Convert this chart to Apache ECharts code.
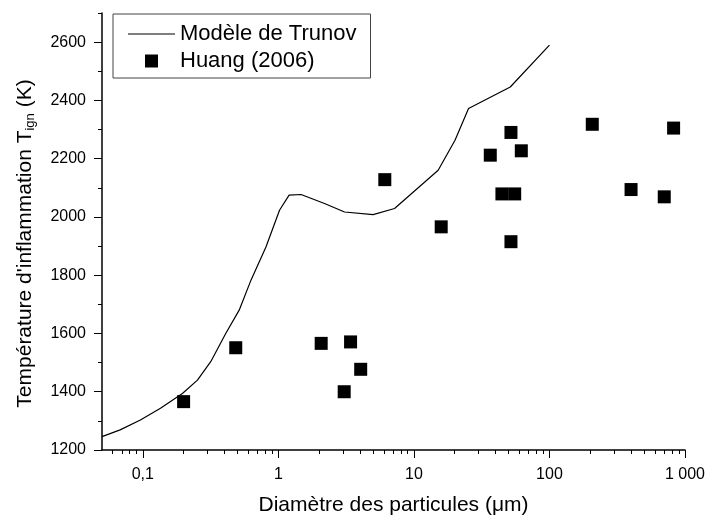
<!DOCTYPE html>
<html>
<head>
<meta charset="utf-8">
<script src="https://cdn.jsdelivr.net/npm/echarts@6/dist/echarts.min.js"></script>
<style>html,body{margin:0;padding:0;background:#fff}#c{width:708px;height:515px}</style>
</head>
<body>
<div id="c"></div>
<script>
// Model line (Trunov): diameter (µm), temperature (K)
const modelD = [0.05, 0.068, 0.096, 0.135, 0.196, 0.253, 0.317, 0.409, 0.514, 0.628, 0.81, 1.02, 1.2, 1.47, 2.19, 3.08, 5.0, 7.2, 15.1, 20.1, 25.3, 51.4, 100];
const modelT = [1246, 1269, 1303, 1343, 1394, 1440, 1503, 1600, 1680, 1783, 1897, 2023, 2075, 2077, 2046, 2017, 2008, 2029, 2160, 2263, 2372, 2446, 2590];
// Huang (2006) measurements
const huangD = [0.2, 0.485, 2.07, 3.06, 3.41, 4.05, 6.1, 15.9, 36.6, 44.6, 52, 52, 55.4, 62, 207, 400, 703, 824];
const huangT = [1366, 1551, 1566, 1400, 1571, 1477, 2128, 1966, 2212, 2079, 2290, 1915, 2079, 2227, 2318, 2094, 2069, 2305];
// Tick values / labels
const xMajorTicks = [0.1, 1, 10, 100, 1000];
const xTickLabels = ['0,1', '1', '10', '100', '1 000'];
const xMinorTicks = [0.06,0.07,0.08,0.09,0.2,0.3,0.4,0.5,0.6,0.7,0.8,0.9,2,3,4,5,6,7,8,9,20,30,40,50,60,70,80,90,200,300,400,500,600,700,800,900];
const yMajorTicks = [1200, 1400, 1600, 1800, 2000, 2200, 2400, 2600];
const yMinorTicks = [1300, 1500, 1700, 1900, 2100, 2300, 2500, 2700];

const FONT = 'Liberation Sans, Arial, sans-serif';
const chart = echarts.init(document.getElementById('c'));
const axisLine = {show: true, lineStyle: {color: '#000', width: 1.5}};

chart.setOption({
  animation: false,
  backgroundColor: '#fff',
  textStyle: {fontFamily: FONT, color: '#000'},
  grid: {left: 102, top: 13, width: 583, height: 437, containLabel: false, outerBoundsMode: 'none'},
  legend: {
    orient: 'vertical', left: 113, top: 14,
    padding: [9, 14, 6, 15],
    itemWidth: 47, itemHeight: 13, itemGap: 5,
    borderColor: '#444', borderWidth: 1,
    textStyle: {fontFamily: FONT, fontSize: 22, color: '#000'},
    data: [
      {name: 'Modèle de Trunov', icon: 'path://M0 0H47V1.2H0Z'},
      {name: 'Huang (2006)', icon: 'path://M0 0H13V13H0Z'}
    ]
  },
  xAxis: [{
    type: 'log', logBase: 10, min: 0.05, max: 1000,
    axisLine: axisLine,
    splitLine: {show: false},
    axisTick: {show: true, inside: false, length: 8, lineStyle: {color: '#000', width: 1}, customValues: xMajorTicks},
    axisLabel: {
      customValues: xMajorTicks, margin: 17, fontSize: 16, fontFamily: FONT, color: '#000',
      formatter: function (v) { const i = xMajorTicks.findIndex(t => Math.abs(Math.log10(t) - Math.log10(v)) < 1e-6); return i >= 0 ? xTickLabels[i] : ''; }
    },
    name: 'Diamètre des particules (μm)', nameLocation: 'middle', nameGap: 45,
    nameTextStyle: {fontSize: 21, fontFamily: FONT, color: '#000'}
  }, {
    type: 'log', logBase: 10, min: 0.05, max: 1000, position: 'bottom',
    axisLine: {show: false}, splitLine: {show: false},
    axisTick: {show: true, inside: false, length: 4, lineStyle: {color: '#000', width: 1}, customValues: xMinorTicks},
    axisLabel: {show: false}
  }],
  yAxis: [{
    type: 'value', min: 1200, max: 2700,
    axisLine: axisLine, splitLine: {show: false},
    axisTick: {show: true, inside: false, length: 8, lineStyle: {color: '#000', width: 1}, customValues: yMajorTicks},
    axisLabel: {customValues: yMajorTicks, margin: 16, fontSize: 16, fontFamily: FONT, color: '#000',
      formatter: function (v) { return String(v); }},
    name: "Température d'inflammation T{sub|ign} (K)", nameLocation: 'middle', nameGap: 65, nameRotate: 90,
    nameTextStyle: {
      fontSize: 21, fontFamily: FONT, color: '#000', padding: [0, 24, 0, 0],
      rich: {sub: {fontSize: 13, fontFamily: FONT, color: '#000', verticalAlign: 'bottom', padding: [10, 0, 0, 0]}}
    }
  }, {
    type: 'value', min: 1200, max: 2700, position: 'left',
    axisLine: {show: false}, splitLine: {show: false},
    axisTick: {show: true, inside: false, length: 4, lineStyle: {color: '#000', width: 1}, customValues: yMinorTicks},
    axisLabel: {show: false}
  }],
  series: [{
    name: 'Modèle de Trunov', type: 'line', symbol: 'none', smooth: false,
    lineStyle: {color: '#000', width: 1.2},
    itemStyle: {color: '#000'},
    data: modelD.map((d, i) => [d, modelT[i]])
  }, {
    name: 'Huang (2006)', type: 'scatter', symbol: 'rect', symbolSize: 13,
    itemStyle: {color: '#000', opacity: 1},
    data: huangD.map((d, i) => [d, huangT[i]])
  }]
});
</script>
</body>
</html>
